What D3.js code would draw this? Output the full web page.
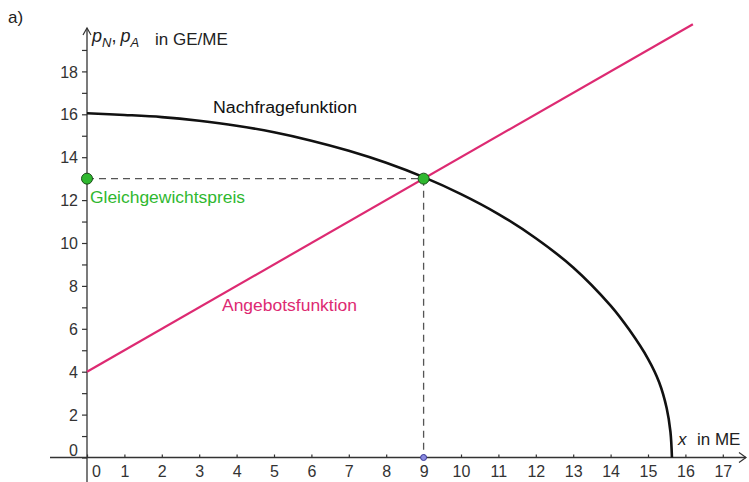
<!DOCTYPE html>
<html>
<head>
<meta charset="utf-8">
<script src="https://cdn.jsdelivr.net/npm/d3@7"></script>
<style>
html,body{margin:0;padding:0;background:#fff;}
svg{display:block;font-family:"Liberation Sans",Arial,sans-serif;}
</style>
</head>
<body>
<svg id="chart" width="749" height="482"></svg>
<script>
// ---- data ----
const xTicks = [0,1,2,3,4,5,6,7,8,9,10,11,12,13,14,15,16,17];
const yTicks = [0,1,2,3,4,5,6,7,8,9,10,11,12,13,14,15,16,17,18,19];
const yTickLabels = [0,2,4,6,8,10,12,14,16,18];
const demandX = [0,1,2,3,4,5,6,7,8,9,10,11,12,13,14,14.5,15,15.3,15.5,15.6,15.64];
const demandY = [16.05,15.97,15.87,15.7,15.47,15.16,14.77,14.3,13.74,13.07,12.28,11.35,10.22,8.86,7.08,5.95,4.6,3.5,2.3,1.2,0];
const supplyX = [0,16.2];
const supplyY = [4,20.2];
const eqX = [9];
const eqY = [13];
const labels = {demand:"Nachfragefunktion", supply:"Angebotsfunktion", eq:"Gleichgewichtspreis"};

const svg = d3.select("#chart");
const x = d3.scaleLinear().domain([0,17]).range([87, 722.8]);
const y = d3.scaleLinear().domain([0,18]).range([457.5, 71.4]);

const axisColor = "#333";
const magenta = "#dd2a72";
const green = "#2fb82f";

// part label
svg.append("text").attr("x",8).attr("y",23).attr("font-size",17).attr("fill","#222").text("a)");

// x axis line + arrow
svg.append("line").attr("x1",50).attr("x2",746).attr("y1",y(0)).attr("y2",y(0))
  .attr("stroke",axisColor).attr("stroke-width",1.3);
svg.append("path").attr("d",`M739,${y(0)-5} L746,${y(0)} L739,${y(0)+5}`)
  .attr("fill","none").attr("stroke",axisColor).attr("stroke-width",1.2);
// y axis line + arrow
svg.append("line").attr("x1",x(0)).attr("x2",x(0)).attr("y1",482).attr("y2",28)
  .attr("stroke",axisColor).attr("stroke-width",1.3);
svg.append("path").attr("d",`M${x(0)-4},35 L${x(0)},28 L${x(0)+4},35`)
  .attr("fill","none").attr("stroke",axisColor).attr("stroke-width",1.2);

// x ticks via d3 axis
const xAxis = d3.axisBottom(x).tickValues(xTicks).tickSize(0).tickPadding(0).tickFormat(d3.format("d"));
const gx = svg.append("g").attr("transform",`translate(0,${y(0)})`).call(xAxis);
gx.select(".domain").remove();
gx.selectAll(".tick").append("line").attr("y1",0).attr("y2",-3).attr("stroke",axisColor).attr("stroke-width",1.2);
gx.selectAll(".tick text").attr("y",19).attr("dy",null).attr("font-size",16)
  .attr("font-family","Liberation Sans, Arial, sans-serif").attr("fill","#333")
  .attr("dx",d=>d===0?9:0);

// y ticks via d3 axis
const yAxis = d3.axisLeft(y).tickValues(yTicks).tickSize(5).tickPadding(4)
  .tickFormat(d=>yTickLabels.includes(d)?d:"");
const gy = svg.append("g").attr("transform",`translate(${x(0)},0)`).call(yAxis);
gy.select(".domain").remove();
gy.selectAll(".tick line").attr("stroke",axisColor).attr("stroke-width",1.2);
gy.selectAll(".tick text").attr("font-size",16).attr("font-family","Liberation Sans, Arial, sans-serif")
  .attr("fill","#333").attr("x",-9)
  .attr("dy",d=>d===0?"-0.1em":"0.35em");

// axis titles
const yt = svg.append("text").attr("x",92).attr("y",42).attr("font-size",18).attr("fill","#222");
yt.append("tspan").attr("font-style","italic").text("p");
yt.append("tspan").attr("font-style","italic").attr("font-size",13).attr("dy",5).text("N");
yt.append("tspan").attr("dy",-5).text(",");
yt.append("tspan").attr("font-style","italic").attr("dx",4).text("p");
yt.append("tspan").attr("font-style","italic").attr("font-size",13).attr("dy",5).text("A");
yt.append("tspan").attr("x",155).attr("dy",-2).attr("font-size",17).text("in GE/ME");

const xt = svg.append("text").attr("y",445).attr("font-size",17).attr("fill","#222");
xt.append("tspan").attr("x",678).attr("font-style","italic").text("x");
xt.append("tspan").attr("x",697).text("in ME");

// dashed helper lines
svg.append("line").attr("x1",x(0)).attr("x2",x(eqX[0])).attr("y1",y(eqY[0])).attr("y2",y(eqY[0]))
  .attr("stroke","#555").attr("stroke-width",1.3).attr("stroke-dasharray","7,5");
svg.append("line").attr("x1",x(eqX[0])).attr("x2",x(eqX[0])).attr("y1",y(eqY[0])).attr("y2",y(0))
  .attr("stroke","#555").attr("stroke-width",1.3).attr("stroke-dasharray","7,5");

// supply line
const supplyData = supplyX.map((v,i)=>[v,supplyY[i]]);
svg.append("path").datum(supplyData)
  .attr("d",d3.line().x(d=>x(d[0])).y(d=>y(d[1])))
  .attr("fill","none").attr("stroke",magenta).attr("stroke-width",2.2);

// demand curve
const demandData = demandX.map((v,i)=>[v,demandY[i]]);
svg.append("path").datum(demandData)
  .attr("d",d3.line().x(d=>x(d[0])).y(d=>y(d[1])).curve(d3.curveCatmullRom.alpha(0.5)))
  .attr("fill","none").attr("stroke","#111").attr("stroke-width",2.6);

// points
svg.append("circle").attr("cx",x(0)).attr("cy",y(eqY[0])).attr("r",5.5)
  .attr("fill",green).attr("stroke","#1a4d1a").attr("stroke-width",1);
svg.append("circle").attr("cx",x(eqX[0])).attr("cy",y(eqY[0])).attr("r",5.5)
  .attr("fill",green).attr("stroke","#1a4d1a").attr("stroke-width",1);
svg.append("circle").attr("cx",x(eqX[0])).attr("cy",y(0)).attr("r",3)
  .attr("fill","#8a8ae0").attr("stroke","#3a3a9a").attr("stroke-width",1);

// labels
svg.append("text").attr("x",213).attr("y",113).attr("font-size",16).attr("fill","#111")
  .attr("textLength",144).attr("lengthAdjust","spacingAndGlyphs").text(labels.demand);
svg.append("text").attr("x",222).attr("y",311).attr("font-size",16).attr("fill",magenta)
  .attr("textLength",135).attr("lengthAdjust","spacingAndGlyphs").text(labels.supply);
svg.append("text").attr("x",90).attr("y",203).attr("font-size",16).attr("fill",green)
  .attr("textLength",155).attr("lengthAdjust","spacingAndGlyphs").text(labels.eq);
</script>
</body>
</html>
